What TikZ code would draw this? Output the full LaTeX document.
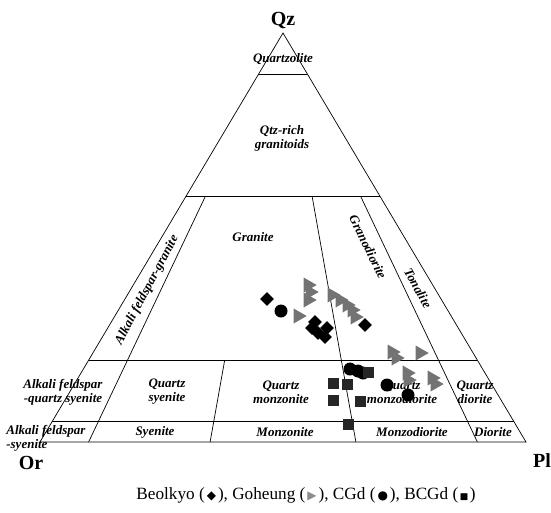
\documentclass[tikz,border=0pt]{standalone}
\usepackage{fontspec}
\setmainfont{Liberation Serif}
\newfontfamily\symfont{DejaVu Sans}
\usetikzlibrary{shapes.geometric}

\tikzset{
  field/.style={font=\bfseries\itshape\fontsize{13}{14}\selectfont, align=center, inner sep=0pt},
  corner/.style={font=\bfseries\fontsize{20}{21}\selectfont, inner sep=0pt},
  beol/.style={diamond, fill=black, minimum size=14pt, inner sep=0pt},
  gohe/.style={isosceles triangle, isosceles triangle apex angle=60, fill=black!55, minimum size=13pt, inner sep=0pt},
  cgd/.style={circle, fill=black, minimum size=13pt, inner sep=0pt},
  bcgd/.style={rectangle, fill=black!85, minimum size=11pt, inner sep=0pt}
}

\begin{document}
\begin{tikzpicture}[x=1pt, y=-1pt, line width=0.7pt]
\useasboundingbox (0,0) rectangle (551,512);
\coordinate (Qz) at (283,33);
\coordinate (Or) at (40,442);
\coordinate (Pl) at (526,442);
% outline and fields
\draw (Qz)--(Or)--(Pl)--cycle;
\foreach \q in {0.9,0.6,0.2,0.05}
  \draw ({283-243*(1-\q)},{442-409*\q})--({283+243*(1-\q)},{442-409*\q});
\foreach \f/\q in {0.1/0.6, 0.35/0.2, 0.65/0.6, 0.9/0.6}
  \draw ({283+(486*\f-243)*(1-\q)},{442-409*\q})--({40+486*\f},442);
% corners
\node[corner] (lq) at (283,20) {Qz};
\node[corner] (lor) at (31,463) {Or};
\node[corner] (lpl) at (542,461) {Pl};
% field names
\node[field] (f1) at (283,59) {Quartzolite};
\node[field] (f2) at (282,138) {Qtz-rich\\granitoids};
\node[field] (f3) at (253,237) {Granite};
\node[field, rotate=62] (f4) at (147,290) {Alkali feldspar-granite};
\node[field, rotate=-64] (f5) at (368,247) {Granodiorite};
\node[field, rotate=-61] (f6) at (418,288) {Tonalite};
\node[field] (f7) at (63,392) {Alkali feldspar\\-quartz syenite};
\node[field] (f8) at (167,392) {Quartz\\syenite};
\node[field] (f9) at (281,392) {Quartz\\monzonite};
\node[field] (f10) at (402,392) {Quartz\\monzodiorite};
\node[field] (f11) at (475,392) {Quartz\\diorite};
\node[field, align=left, anchor=north west] (f12) at (6,425) {Alkali feldspar\\-syenite};
\node[field] (f13) at (155,432) {Syenite};
\node[field] (f14) at (285,432) {Monzonite};
\node[field] (f15) at (412,432) {Monzodiorite};
\node[field] (f16) at (493,432) {Diorite};
% samples
\foreach \x/\y [count=\i] in {308/285, 310/292, 308/300, 298/316, 332/295, 340/300,
    347/305, 352/310, 355/317, 392/352, 396/358, 420/353, 407/373, 408/380, 432/378, 435/384}
  \node[gohe] (g\i) at (\x,\y) {};
\foreach \x/\y [count=\i] in {267/299, 365/325, 315/322, 312/328, 327/328, 318/333, 325/337}
  \node[beol] (b\i) at (\x,\y) {};
\foreach \x/\y [count=\i] in {281/311, 350/369, 358/371, 363/373, 387/385, 408/395}
  \node[cgd] (c\i) at (\x,\y) {};
\foreach \x/\y [count=\i] in {368/372, 333/383, 347/384, 333/400, 360/401, 348/424}
  \node[bcgd] (s\i) at (\x,\y) {};
% legend
\node[font=\fontsize{17.2}{18}\selectfont] (cap) at (306,495)
  {Beolkyo ({\symfont\fontsize{12}{12}\selectfont\,◆\,}), Goheung ({\symfont\fontsize{12}{12}\selectfont\,\textcolor{black!45}{▶}\,}), CGd ({\symfont\fontsize{12}{12}\selectfont\,●\,}), BCGd ({\symfont\fontsize{9}{9}\selectfont\,■\,})};
\end{tikzpicture}
\end{document}
